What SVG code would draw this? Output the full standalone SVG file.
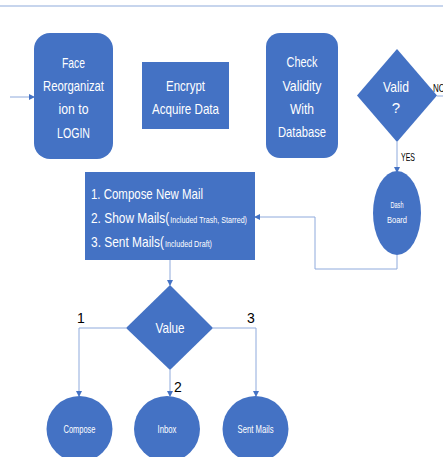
<svg xmlns="http://www.w3.org/2000/svg" width="443" height="457" viewBox="0 0 443 457">
<defs>
<style>
.shape{fill:#4472C4;}
.t{font-family:"Liberation Sans",Arial,sans-serif;fill:#FFFFFF;text-anchor:middle;}
.s{text-anchor:start;}
.big{font-size:15px;}
.mid{font-size:10px;}
.sm{font-size:9px;}
.lbl{font-family:"Liberation Sans",Arial,sans-serif;fill:#000000;}
.conn{fill:none;stroke:#8FAADC;stroke-width:1;}
</style>
<marker id="arr" markerWidth="6" markerHeight="6" refX="5" refY="3" orient="auto" markerUnits="userSpaceOnUse">
<path d="M0,0 L6,3 L0,6 Z" fill="#4472C4"/>
</marker>
</defs>
<rect width="443" height="457" fill="#FFFFFF"/>
<line x1="0" y1="6" x2="443" y2="6" stroke="#B4C7E7" stroke-width="1.5"/>

<g id="connectors">
<line class="conn" x1="10" y1="97" x2="34" y2="97" marker-end="url(#arr)"/>
<line class="conn" x1="437" y1="96" x2="443" y2="96"/>
<line class="conn" x1="397" y1="142" x2="397" y2="172" marker-end="url(#arr)"/>
<polyline class="conn" points="397,255 397,269 315,269 315,217 255,217" marker-end="url(#arr)"/>
<line class="conn" x1="170" y1="260" x2="170" y2="285" marker-end="url(#arr)"/>
<polyline class="conn" points="126,328 79,328 79,396" marker-end="url(#arr)"/>
<line class="conn" x1="170" y1="370" x2="170" y2="396" marker-end="url(#arr)"/>
<polyline class="conn" points="213,328 256,328 256,396" marker-end="url(#arr)"/>
<text class="lbl" x="433" y="92" font-size="11" textLength="12" lengthAdjust="spacingAndGlyphs">NO</text>
<text class="lbl" x="401" y="161" font-size="11" textLength="14" lengthAdjust="spacingAndGlyphs">YES</text>
<text class="lbl" x="77" y="323" font-size="14">1</text>
<text class="lbl" x="174" y="392" font-size="14">2</text>
<text class="lbl" x="247" y="323" font-size="14">3</text>
</g>

<g id="face">
<rect class="shape" x="34" y="33" width="79" height="126" rx="16" ry="16"/>
<text class="t big" x="73.5" y="68" textLength="23" lengthAdjust="spacingAndGlyphs">Face</text>
<text class="t big" x="73.5" y="91" textLength="61" lengthAdjust="spacingAndGlyphs">Reorganizat</text>
<text class="t big" x="73.5" y="114" textLength="30" lengthAdjust="spacingAndGlyphs">ion to</text>
<text class="t big" x="73.5" y="138" textLength="33" lengthAdjust="spacingAndGlyphs">LOGIN</text>
</g>

<g id="encrypt">
<rect class="shape" x="142" y="62" width="87" height="67"/>
<text class="t big" x="185.5" y="91" textLength="39" lengthAdjust="spacingAndGlyphs">Encrypt</text>
<text class="t big" x="185.5" y="114" textLength="67" lengthAdjust="spacingAndGlyphs">Acquire Data</text>
</g>

<g id="check">
<rect class="shape" x="266" y="33" width="72" height="125" rx="14" ry="14"/>
<text class="t big" x="302" y="67" textLength="31" lengthAdjust="spacingAndGlyphs">Check</text>
<text class="t big" x="302" y="91" textLength="39" lengthAdjust="spacingAndGlyphs">Validity</text>
<text class="t big" x="302" y="114" textLength="24" lengthAdjust="spacingAndGlyphs">With</text>
<text class="t big" x="302" y="137" textLength="48" lengthAdjust="spacingAndGlyphs">Database</text>
</g>

<g id="valid">
<polygon class="shape" points="397,49 437,95.5 397,142 357,95.5"/>
<text class="t big" x="396" y="92" textLength="26" lengthAdjust="spacingAndGlyphs">Valid</text>
<text class="t big" x="396" y="113">?</text>
</g>

<g id="dashboard">
<ellipse class="shape" cx="397" cy="213" rx="24" ry="42"/>
<text class="t sm" x="397" y="208" textLength="13" lengthAdjust="spacingAndGlyphs">Dash</text>
<text class="t sm" x="397" y="223" textLength="20" lengthAdjust="spacingAndGlyphs">Board</text>
</g>

<g id="menu">
<rect class="shape" x="85" y="172" width="170" height="88"/>
<text class="t big s" x="91" y="199" textLength="112" lengthAdjust="spacingAndGlyphs">1. Compose New Mail</text>
<text class="t big s" x="91" y="223" textLength="156" lengthAdjust="spacingAndGlyphs">2. Show Mails(<tspan class="sm" dx="1.5">Included Trash, Starred)</tspan></text>
<text class="t big s" x="91" y="247" textLength="121" lengthAdjust="spacingAndGlyphs">3. Sent Mails(<tspan class="sm" dx="1.5">Included Draft)</tspan></text>
</g>

<g id="value">
<polygon class="shape" points="170,285 213,328 170,370 126,328"/>
<text class="t big" x="170" y="333" textLength="29" lengthAdjust="spacingAndGlyphs">Value</text>
</g>

<g id="compose">
<circle class="shape" cx="79.5" cy="429" r="33"/>
<text class="t mid" x="79.5" y="433" textLength="32" lengthAdjust="spacingAndGlyphs">Compose</text>
</g>

<g id="inbox">
<circle class="shape" cx="167" cy="429" r="33"/>
<text class="t mid" x="167" y="433" textLength="19" lengthAdjust="spacingAndGlyphs">Inbox</text>
</g>

<g id="sentmails">
<circle class="shape" cx="255.5" cy="429" r="33"/>
<text class="t mid" x="255.5" y="433" textLength="36" lengthAdjust="spacingAndGlyphs">Sent Mails</text>
</g>
</svg>
